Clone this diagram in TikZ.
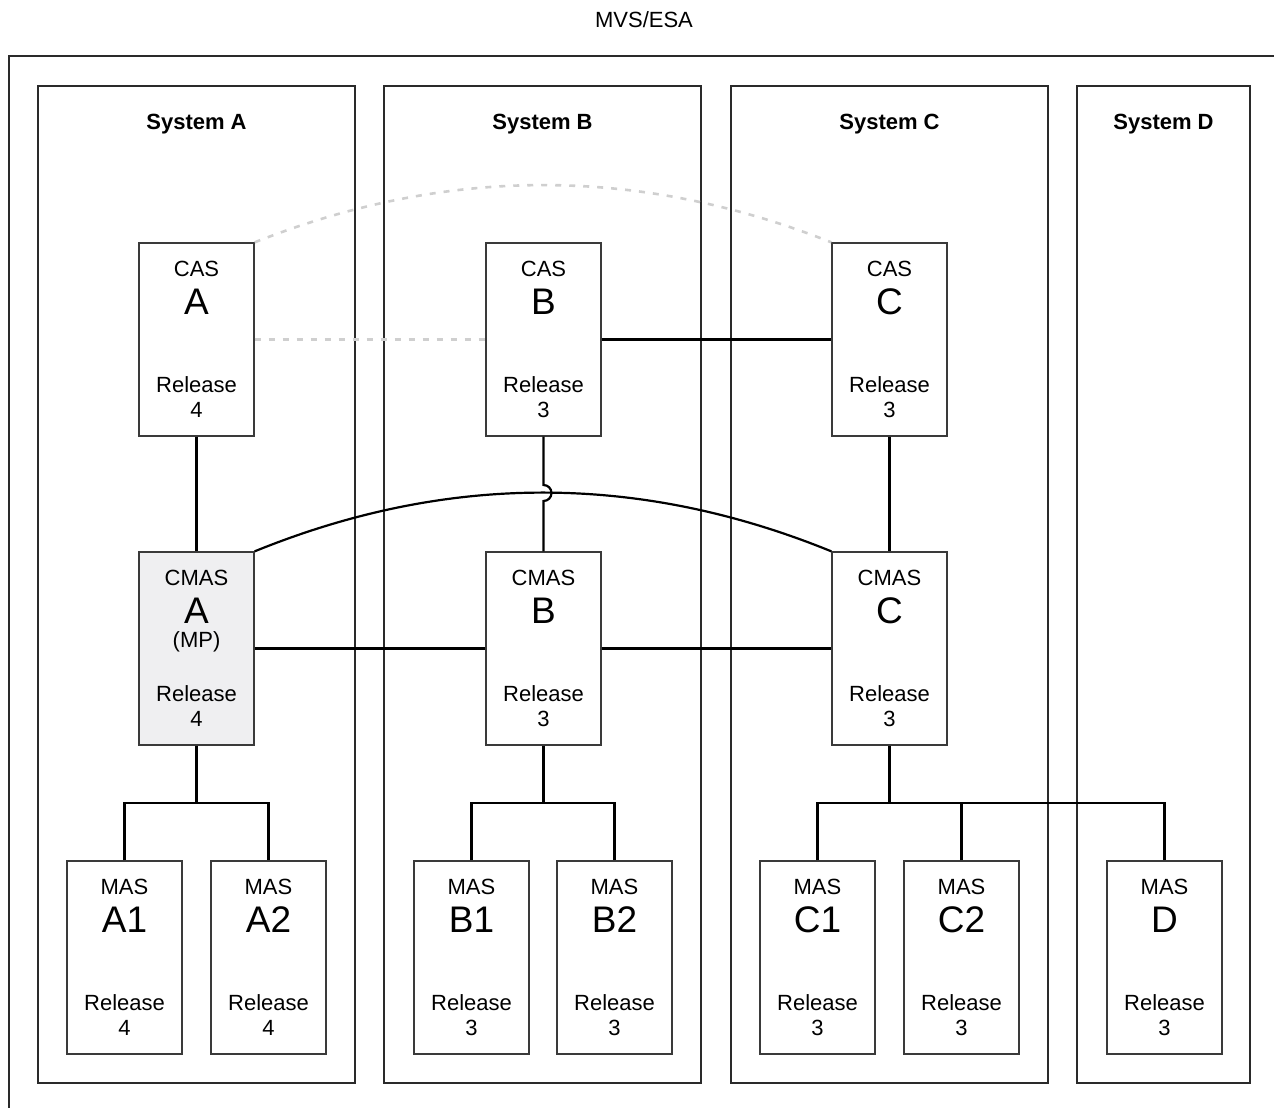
\documentclass[tikz,border=0pt]{standalone}
\usepackage{fontspec}
\setmainfont{Liberation Sans}
\usetikzlibrary{calc,positioning}
\definecolor{frameline}{HTML}{2A2A2A}
\definecolor{boxline}{HTML}{3A3A3A}
\definecolor{peerline}{HTML}{CFCFCF}
\definecolor{mpfill}{HTML}{EFEFF1}
\tikzset{x=1pt,y=1pt,
  every node/.style={inner sep=0pt,font=\fontsize{22}{26}\selectfont},
  sysframe/.style={draw=frameline,line width=1.3pt},
  syslabel/.style={font=\fontsize{22}{26}\selectfont\bfseries},
  srvbox/.style={draw=boxline,line width=1.3pt,minimum width=115pt,minimum height=193pt},
  bigname/.style={font=\fontsize{37}{40}\selectfont},
  link/.style={draw=black,line width=2.2pt},
  peer/.style={draw=peerline,line width=2.6pt,dash pattern=on 6pt off 8pt}}
% box with kind, name and release
\newcommand{\server}[6]{%
  \node[srvbox] (#1) at (#2,#3) {};
  \node (#1-kind) at ([yshift=-27pt]#1.north) {#4};
  \node[bigname] (#1-name) at ([yshift=-59pt]#1.north) {#5};
  \node (#1-rel) at ([yshift=-142pt]#1.north) {Release};
  \node (#1-num) at ([yshift=-168pt]#1.north) {#6};}

\begin{document}
\begin{tikzpicture}
\useasboundingbox (0,0) rectangle (1274,-1108);
\node (title) at (644,-20) {MVS/ESA};
\draw[sysframe] (1280,-56) -- (9,-56) -- (9,-1115);
% systems
\draw[sysframe] (38,-86) rectangle (355,-1083);
\draw[sysframe] (384,-86) rectangle (701,-1083);
\draw[sysframe] (731,-86) rectangle (1048,-1083);
\draw[sysframe] (1077,-86) rectangle (1250,-1083);
\node[syslabel] (sysA) at (196.5,-124) {System A};
\node[syslabel] (sysB) at (542.5,-124) {System B};
\node[syslabel] (sysC) at (889.5,-124) {System C};
\node[syslabel] (sysD) at (1163.5,-124) {System D};
% address spaces
\server{casA}{196.5}{-339.5}{CAS}{A}{4}
\server{casB}{543.5}{-339.5}{CAS}{B}{3}
\server{casC}{889.5}{-339.5}{CAS}{C}{3}
\node[srvbox,fill=mpfill] at (196.5,-648.5) {};
\server{cmasA}{196.5}{-648.5}{CMAS}{A}{4}
\node (cmasA-mp) at ([yshift=-90pt]cmasA.north) {(MP)};
\server{cmasB}{543.5}{-648.5}{CMAS}{B}{3}
\server{cmasC}{889.5}{-648.5}{CMAS}{C}{3}
\foreach \id/\x/\rel in {A1/124.5/4,A2/268.5/4,B1/471.5/3,B2/614.5/3,
    C1/817.5/3,C2/961.5/3,D/1164.5/3}
  \server{mas\id}{\x}{-957.5}{MAS}{\id}{\rel};
% connections
\draw[peer] (casA.east) -- (casB.west);
\draw[peer] (casA.north east) .. controls (447,-166) and (639,-166) .. (casC.north west);
\draw[link] (casB.east) -- (casC.west);
\draw[link] (casA.south) -- (cmasA.north);
\draw[link] (casC.south) -- (cmasC.north);
\draw[link] (casB.south) -- (543.5,-485) arc[start angle=90,end angle=-90,radius=8] -- (cmasB.north);
\draw[link] (cmasA.north east) .. controls (447,-473) and (639,-473) .. (cmasC.north west);
\draw[link] (cmasA.east) -- (cmasB.west);
\draw[link] (cmasB.east) -- (cmasC.west);
\draw[link] (cmasA.south) -- ++(0,-57) coordinate (jA);
\draw[link] (cmasB.south) -- ++(0,-57) coordinate (jB);
\draw[link] (cmasC.south) -- ++(0,-57) coordinate (jC);
\draw[link] (masA1.north) |- (jA) -| (masA2.north);
\draw[link] (masB1.north) |- (jB) -| (masB2.north);
\draw[link] (masC1.north) |- (jC) -| (masD.north);
\draw[link] (masC2.north) -- (masC2.north |- jC);
\end{tikzpicture}
\end{document}
